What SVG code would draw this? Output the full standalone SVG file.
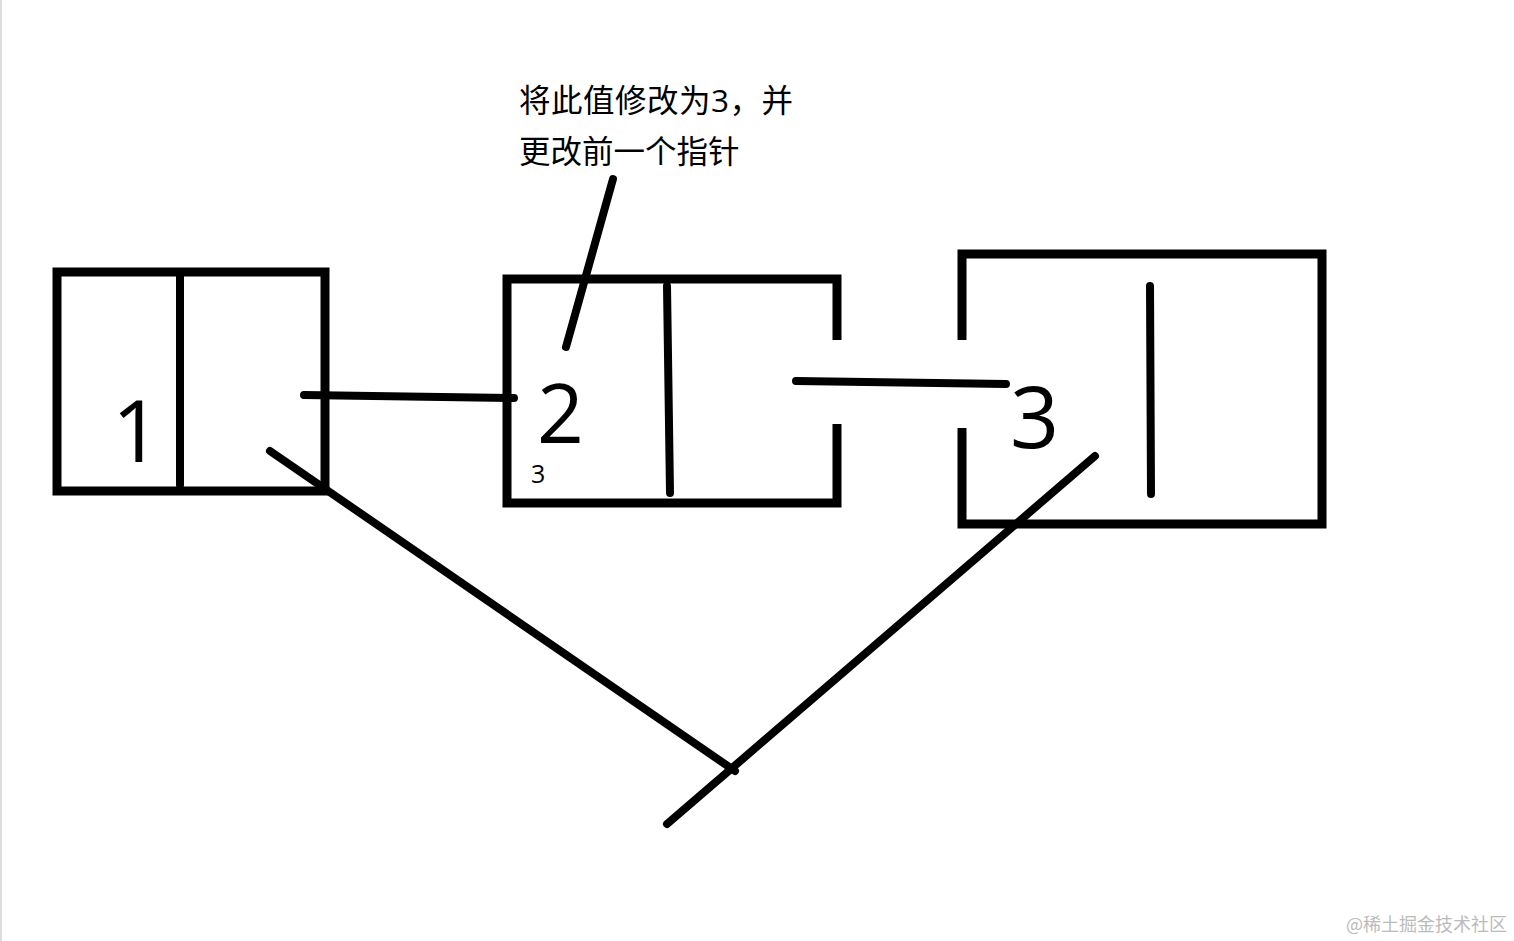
<svg xmlns="http://www.w3.org/2000/svg" width="1514" height="941" viewBox="0 0 1514 941">
<style>
.b{fill:none;stroke:#000;stroke-width:9}
.l{fill:none;stroke:#000;stroke-width:8;stroke-linecap:round}
.t{font-family:"Open Sans","Noto Sans CJK SC",sans-serif;fill:#000}
</style>
<rect width="1514" height="941" fill="#fff"/>
<line x1="1" y1="0" x2="1" y2="941" stroke="#ddd" stroke-width="2"/>
<g id="node1">
<rect class="b" x="57" y="272" width="268" height="219"/>
<line class="l" x1="180" y1="276" x2="180" y2="485"/>
<text class="t" x="112" y="462" font-size="86">1</text>
</g>
<g id="node2">
<path class="b" d="M837 340 V279 H507 V503 H837 V424"/>
<line class="l" x1="667" y1="286" x2="670" y2="493"/>
<text class="t" x="537" y="443" font-size="82">2</text>
<text class="t" x="531" y="483" font-size="25">3</text>
</g>
<g id="node3">
<path class="b" d="M962 340 V254 H1322 V524 H962 V428"/>
<line class="l" x1="1150" y1="286" x2="1151" y2="494"/>
<text class="t" x="1010" y="448" font-size="86">3</text>
</g>
<g id="note">
<text class="t" x="519" y="112" font-size="31.5" textLength="274">将此值修改为3，并</text>
<text class="t" x="519" y="163" font-size="31.5">更改前一个指针</text>
</g>
<g id="connectors">
<line class="l" x1="613" y1="179" x2="566" y2="347"/>
<line class="l" x1="304" y1="395" x2="514" y2="398"/>
<line class="l" x1="796" y1="381" x2="1006" y2="384"/>
<line class="l" x1="270" y1="451" x2="735" y2="771"/>
<line class="l" x1="1095" y1="456" x2="667" y2="824"/>
</g>
<text x="1507" y="931" text-anchor="end" font-family="'Noto Sans CJK SC',sans-serif" font-size="18" fill="#bbb">@稀土掘金技术社区</text>
</svg>
